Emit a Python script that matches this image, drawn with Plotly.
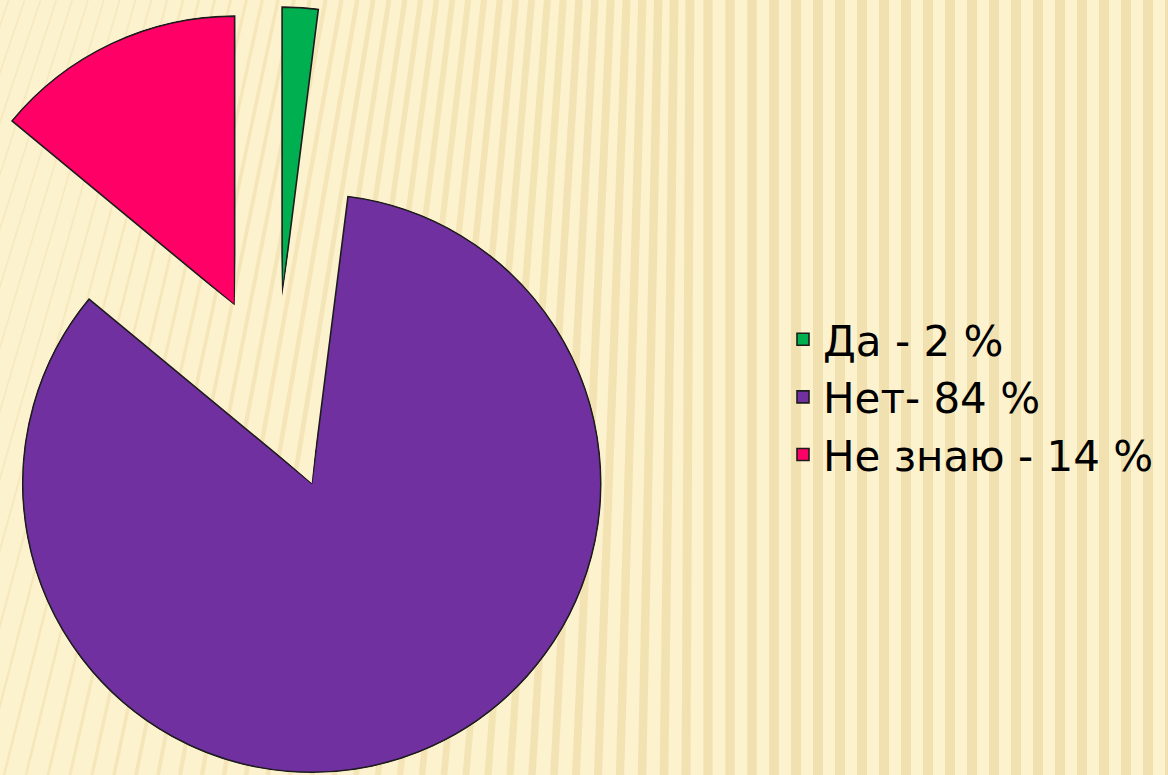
import math
import plotly.graph_objects as go

# ---- data ----
categories = ["Да", "Нет", "Не знаю"]
values = [2, 84, 14]
legend_labels = ["Да - 2 %", "Нет- 84 %", "Не знаю - 14 %"]
colors = ["#00B050", "#7030A0", "#FF0066"]

# ---- layout constants (pixels) ----
W, H = 1168, 775
PIE_CX, PIE_CY = 276, 393      # pie centre before pulling
PIE_R = 289                    # radius
PULL = 0.336                   # explode distance as a fraction of the radius
PAD_DEG = 1.5                  # sector padding so outlines are not clipped
PAD_R = 0.004

total = sum(values)


def sector_bbox(s0, s1):
    """Bounding box (unit radius) of a polar sector incl. its origin, as plotly computes it."""
    arc = s1 - s0
    a0 = s0 % 360
    a1 = a0 + arc
    ax0, ay0 = math.cos(math.radians(a0)), math.sin(math.radians(a0))
    ax1, ay1 = math.cos(math.radians(a1)), math.sin(math.radians(a1))
    if (a0 <= 90 <= a1) or (a0 > 90 and a1 >= 450):
        y1 = 1
    elif ay0 <= 0 and ay1 <= 0:
        y1 = 0
    else:
        y1 = max(ay0, ay1)
    if (a0 <= 180 <= a1) or (a0 > 180 and a1 >= 540):
        x0 = -1
    elif ax0 >= 0 and ax1 >= 0:
        x0 = 0
    else:
        x0 = min(ax0, ax1)
    if (a0 <= 270 <= a1) or (a0 > 270 and a1 >= 630):
        y0 = -1
    elif ay0 >= 0 and ay1 >= 0:
        y0 = 0
    else:
        y0 = min(ay0, ay1)
    if a1 >= 360:
        x1 = 1
    elif ax0 <= 0 and ax1 <= 0:
        x1 = 0
    else:
        x1 = max(ax0, ax1)
    return x0, y0, x1, y1


def clamp(v):
    return min(1.0, max(0.0, v))


fig = go.Figure()
layout_extra = {}
start = 0.0  # clockwise degrees from 12 o'clock
for i, (cat, val, lab, col) in enumerate(zip(categories, values, legend_labels, colors)):
    span = 360.0 * val / total
    mid = start + span / 2
    # vertex of the exploded slice
    vx = PIE_CX + PULL * PIE_R * math.sin(math.radians(mid))
    vy = PIE_CY - PULL * PIE_R * math.cos(math.radians(mid))
    # sector in screen angles (counter-clockwise from east)
    s_end = 90 - start
    s_start = 90 - (start + span)
    s0, s1 = s_start - PAD_DEG, s_end + PAD_DEG
    bx0, by0, bx1, by1 = sector_bbox(s0, s1)
    rpx = PIE_R * (1 + PAD_R)
    px0, px1 = vx + bx0 * rpx, vx + bx1 * rpx
    py_top, py_bot = vy - by1 * rpx, vy - by0 * rpx
    pname = "polar" if i == 0 else f"polar{i + 1}"
    layout_extra[pname] = dict(
        domain=dict(x=[clamp(px0 / W), clamp(px1 / W)],
                    y=[clamp(1 - py_bot / H), clamp(1 - py_top / H)]),
        sector=[s0, s1],
        bgcolor="rgba(0,0,0,0)",
        radialaxis=dict(visible=False, range=[0, total * (1 + PAD_R)]),
        angularaxis=dict(visible=False, rotation=90, direction="clockwise"),
    )
    fig.add_trace(go.Barpolar(
        r=[total], theta=[mid], width=[span], base=0,
        name=lab, legendgroup=cat,
        marker=dict(color=col, line=dict(color="#1c1c1c", width=1.6)),
        subplot=pname, hoverinfo="name",
    ))
    start += span

# ---- decorative striped background ----
shapes = []
x = -260
while x < W + 20:
    t = min(1.0, max(0.0, (x + 100) / 900))          # 0 at left, 1 at right
    slant = max(0.0, 700 - x) * 0.28
    lw = 1.5 + 8.5 * t
    alpha = 0.16 + 0.12 * t
    shapes.append(dict(
        type="line", xref="paper", yref="paper", layer="below",
        x0=x / W, y0=0, x1=(x + slant) / W, y1=1,
        line=dict(color=f"rgba(214,182,100,{alpha:.3f})", width=lw),
    ))
    x += 22

fig.update_layout(
    width=W, height=H,
    margin=dict(l=0, r=0, t=0, b=0),
    paper_bgcolor="#FDF2CE",
    plot_bgcolor="rgba(0,0,0,0)",
    showlegend=True,
    shapes=shapes,
    legend=dict(
        x=783 / W, xanchor="left", y=1 - 397 / H, yanchor="middle",
        font=dict(family="DejaVu Sans, Arial, sans-serif", size=42, color="#000000"),
        bgcolor="rgba(0,0,0,0)", traceorder="grouped", tracegroupgap=0,
    ),
    **layout_extra,
)

fig.write_html("out.html", config={"displayModeBar": False},
               post_script="document.body.style.margin='0px';")
